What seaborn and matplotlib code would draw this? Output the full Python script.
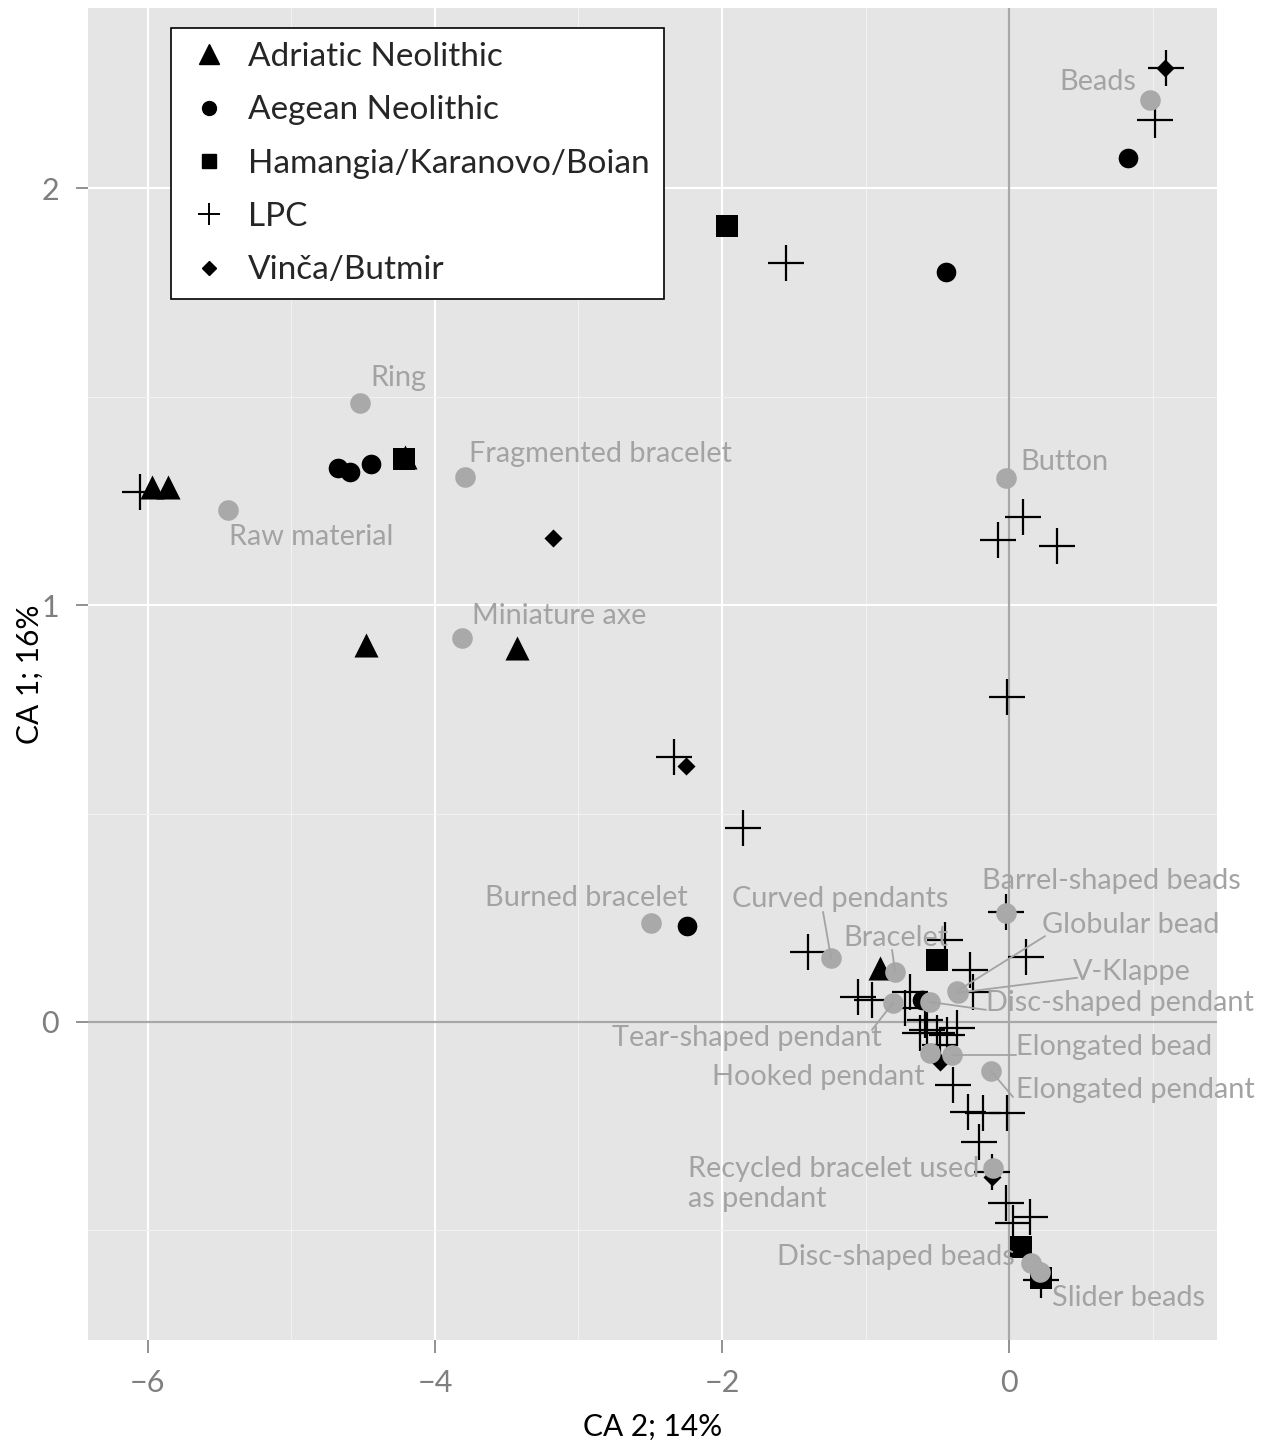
import numpy as np
import pandas as pd
import matplotlib
matplotlib.use("Agg")
import matplotlib.pyplot as plt
from matplotlib.lines import Line2D
from matplotlib.ticker import MultipleLocator
import seaborn as sns

# --- Fundstellen (Zeilenkoordinaten der CA) ---
adriatic_x = [-5.972, -5.861, -4.209, -4.481, -3.429, -0.899]
adriatic_y = [1.283, 1.283, 1.355, 0.904, 0.897, 0.129]

aegean_x = [-4.676, -4.592, -4.446, -0.439, 0.829, -2.244, -0.606]
aegean_y = [1.329, 1.319, 1.338, 1.799, 2.072, 0.230, 0.053]

hamangia_x = [-1.965, -4.216, -0.502, 0.084, 0.223]
hamangia_y = [1.909, 1.350, 0.149, -0.540, -0.614]

lpc_x = [-6.056, 1.017, 1.094, -1.554, 0.098, -0.077, 0.334, -0.014, -2.334,
         -1.854, -1.401, -0.021, -0.446, -0.272, 0.118, -1.052, -0.690, -0.955,
         -0.251, -0.362, -0.571, -0.502, -0.432, -0.620, -0.390, -0.286, -0.181,
         -0.014, -0.209, -0.118, -0.021, 0.146, 0.028, 0.223, -0.725, -0.585,
         -0.481]
lpc_y = [1.271, 2.163, 2.288, 1.820, 1.211, 1.156, 1.141, 0.779, 0.635,
         0.465, 0.168, 0.264, 0.197, 0.125, 0.156, 0.060, 0.072, 0.053,
         0.072, -0.014, -0.019, -0.026, -0.031, -0.026, -0.151, -0.216, -0.218,
         -0.218, -0.288, -0.360, -0.434, -0.468, -0.482, -0.619, 0.034, 0.005,
         -0.055]

vinca_x = [1.087, -3.178, -2.251, -0.481, -0.118]
vinca_y = [2.288, 1.161, 0.614, -0.096, -0.372]

groups = ["Adriatic Neolithic", "Aegean Neolithic", "Hamangia/Karanovo/Boian",
          "LPC", "Vinča/Butmir"]

# --- Objekttypen (Spaltenkoordinaten der CA) ---
obj_names = ["Beads", "Ring", "Fragmented bracelet", "Raw material", "Button",
             "Miniature axe", "Burned bracelet", "Curved pendants", "Bracelet",
             "Barrel-shaped beads", "Globular bead", "V-Klappe",
             "Disc-shaped pendant", "Tear-shaped pendant", "Hooked pendant",
             "Elongated bead", "Elongated pendant",
             "Recycled bracelet used\nas pendant", "Disc-shaped beads",
             "Slider beads"]
obj_x = [0.983, -4.523, -3.791, -5.443, -0.021, -3.812, -2.495, -1.240, -0.794,
         -0.021, -0.362, -0.355, -0.551, -0.808, -0.551, -0.397, -0.125,
         -0.111, 0.153, 0.216]
obj_y = [2.211, 1.484, 1.307, 1.228, 1.305, 0.921, 0.237, 0.153, 0.120,
         0.261, 0.074, 0.070, 0.048, 0.046, -0.074, -0.079, -0.118,
         -0.350, -0.578, -0.600]

# Beschriftungspositionen (wie ggrepel): (x, y, ha, Linienstart oder None)
label_pos = [
    (0.885, 2.254, "right", None),
    (-4.453, 1.544, "left", None),
    (-3.763, 1.362, "left", None),
    (-5.436, 1.163, "left", None),
    (0.077, 1.343, "left", None),
    (-3.742, 0.974, "left", None),
    (-2.237, 0.297, "right", None),
    (-1.930, 0.295, "left", (-1.296, 0.264)),
    (-1.157, 0.201, "left", (-0.815, 0.173)),
    (-0.188, 0.338, "left", None),
    (0.230, 0.233, "left", (0.251, 0.206)),
    (0.446, 0.120, "left", (0.474, 0.106)),
    (-0.160, 0.046, "left", (-0.160, 0.029)),
    (-0.885, -0.038, "right", (-0.955, -0.019)),
    (-0.585, -0.132, "right", None),
    (0.049, -0.060, "left", (0.049, -0.079)),
    (0.049, -0.163, "left", (0.028, -0.180)),
    (-2.237, -0.388, "left", None),
    (0.042, -0.564, "right", None),
    (0.300, -0.662, "left", None),
]

sites = pd.concat([
    pd.DataFrame({"ca2": adriatic_x, "ca1": adriatic_y, "group": groups[0]}),
    pd.DataFrame({"ca2": aegean_x, "ca1": aegean_y, "group": groups[1]}),
    pd.DataFrame({"ca2": hamangia_x, "ca1": hamangia_y, "group": groups[2]}),
    pd.DataFrame({"ca2": lpc_x, "ca1": lpc_y, "group": groups[3]}),
    pd.DataFrame({"ca2": vinca_x, "ca1": vinca_y, "group": groups[4]}),
], ignore_index=True)
objects = pd.DataFrame({"ca2": obj_x, "ca1": obj_y, "name": obj_names})

sns.set_theme(style="darkgrid", rc={
    "axes.facecolor": "#E5E5E5",
    "grid.color": "white",
})
plt.rcParams["font.family"] = ["Lato", "DejaVu Sans"]

fig = plt.figure(figsize=(12.73, 14.42), dpi=100)
ax = fig.add_axes([0.0691, 0.0707, 0.8869, 0.9237])

GREY_PT = "#A9A9A9"
GREY_TXT = "#A3A3A3"

# Nulllinien
ax.axhline(0, color="#A8A8A8", lw=1.6, zorder=1)
ax.axvline(0, color="#A8A8A8", lw=1.6, zorder=1)

markers = {
    groups[0]: ("^", 300, 0),
    groups[1]: ("o", 200, 0),
    groups[2]: ("s", 230, 0),
    groups[3]: ("+", 650, 1.6),
    groups[4]: ("D", 85, 0),
}
for g in groups:
    m, s, lw = markers[g]
    sub = sites[sites["group"] == g]
    sns.scatterplot(data=sub, x="ca2", y="ca1", marker=m, s=s, color="black",
                    linewidth=lw, ax=ax, legend=False, zorder=3)

sns.scatterplot(data=objects, x="ca2", y="ca1", s=220, color=GREY_PT,
                linewidth=0, ax=ax, legend=False, zorder=4)

for (name, px, py, (tx, ty, ha, seg)) in zip(obj_names, obj_x, obj_y, label_pos):
    if seg is not None:
        ax.plot([seg[0], px], [seg[1], py], color=GREY_TXT, lw=1.3, zorder=4)
    ax.text(tx, ty, name, ha=ha, va="center", fontsize=20.8, color=GREY_TXT,
            zorder=5, linespacing=1.2)

ax.set_xlim(-6.418, 1.449)
ax.set_ylim(-0.763, 2.432)
ax.xaxis.set_minor_locator(MultipleLocator(1))
ax.yaxis.set_major_locator(MultipleLocator(1))
ax.yaxis.set_minor_locator(MultipleLocator(0.5))
ax.set_xticks([-6, -4, -2, 0])
ax.set_xticklabels(["\u22126", "\u22124", "\u22122", "0"])
ax.grid(which="major", color="white", lw=1.5)
ax.grid(which="minor", color="#F2F2F2", lw=0.8)
ax.tick_params(which="major", length=9, width=1.2, color="#7F7F7F",
               labelcolor="#7F7F7F", labelsize=22, pad=12, bottom=True, left=True)
ax.tick_params(which="minor", length=0)
for sp in ax.spines.values():
    sp.set_visible(False)

ax.set_xlabel("CA 2; 14%", fontsize=21.5, color="black", labelpad=11)
ax.set_ylabel("CA 1; 16%", fontsize=21.5, color="black", labelpad=-2)

handles = [
    Line2D([], [], ls="", marker="^", ms=14, color="black"),
    Line2D([], [], ls="", marker="o", ms=10, color="black"),
    Line2D([], [], ls="", marker="s", ms=10, color="black"),
    Line2D([], [], ls="", marker="+", ms=16, mew=1.4, color="black"),
    Line2D([], [], ls="", marker="D", ms=7.5, color="black"),
]
leg = ax.legend(handles, groups, loc="upper left", bbox_to_anchor=(0.0735, 0.985),
                borderaxespad=0, fontsize=24, frameon=True, fancybox=False,
                edgecolor="black", facecolor="white", framealpha=1,
                labelspacing=0.7, handletextpad=0.45, borderpad=0.42,
                handlelength=1.45)
leg.get_frame().set_linewidth(1.2)
leg.set_zorder(6)

fig.savefig("out.png", dpi=100)
